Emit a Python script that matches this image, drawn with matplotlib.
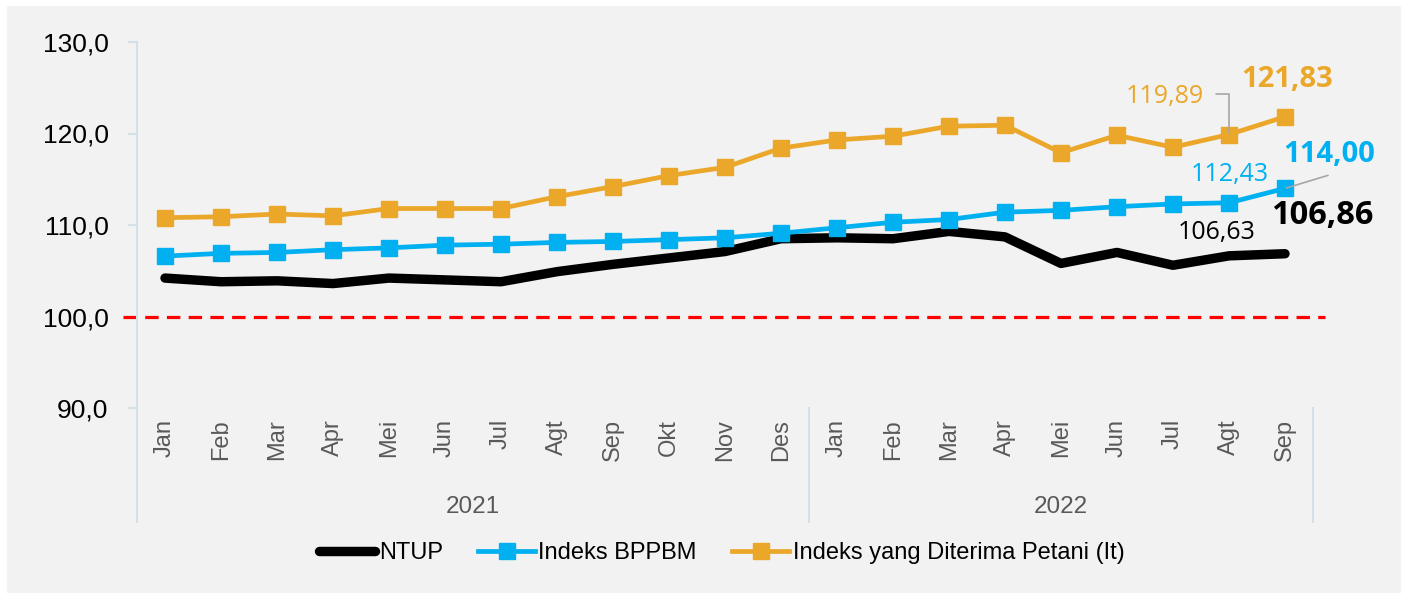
import matplotlib
matplotlib.use('Agg')
import matplotlib.pyplot as plt
from matplotlib.patches import Rectangle
from matplotlib.lines import Line2D
import matplotlib.transforms as mtrans

# ---------------- data ----------------
months = ['Jan', 'Feb', 'Mar', 'Apr', 'Mei', 'Jun', 'Jul', 'Agt', 'Sep', 'Okt', 'Nov', 'Des',
          'Jan', 'Feb', 'Mar', 'Apr', 'Mei', 'Jun', 'Jul', 'Agt', 'Sep']
years = ['2021', '2022']
year_counts = [12, 9]

ntup = [104.2, 103.8, 103.9, 103.6, 104.2, 104.0, 103.8, 104.9, 105.7, 106.4, 107.1, 108.5,
        108.6, 108.5, 109.3, 108.7, 105.8, 107.0, 105.6, 106.63, 106.86]
bppbm = [106.6, 106.9, 107.0, 107.3, 107.5, 107.8, 107.9, 108.1, 108.2, 108.4, 108.6, 109.1,
         109.7, 110.3, 110.6, 111.4, 111.6, 112.0, 112.3, 112.43, 114.00]
it = [110.8, 110.9, 111.2, 111.0, 111.8, 111.8, 111.8, 113.1, 114.2, 115.4, 116.3, 118.4,
      119.3, 119.7, 120.8, 120.9, 117.9, 119.8, 118.5, 119.89, 121.83]

yticks = [90, 100, 110, 120, 130]
ref_level = 100
series_names = ['NTUP', 'Indeks BPPBM', 'Indeks yang Diterima Petani (It)']

# ---------------- style ----------------
C_NTUP = '#000000'
C_BLUE = '#00B0F0'
C_ORANGE = '#EBA72A'
C_AXIS = '#d5dfe7'
C_GRAY = '#595959'
C_LEADER = '#a6a6a6'
AX_FONT = ['Liberation Sans', 'DejaVu Sans']
LBL_FONT = ['Open Sans', 'Lato', 'DejaVu Sans']

W, H = 1401, 595
fig = plt.figure(figsize=(W / 100, H / 100), dpi=100)
fig.patch.set_facecolor('white')
fig.patches.append(Rectangle((7 / W, 2 / H), 1 - 7 / W, 1 - 8 / H, transform=fig.transFigure,
                             facecolor='#f2f2f2', edgecolor='none', zorder=-10))

ax = fig.add_axes([137 / W, 1 - 408 / H, 1176 / W, 366 / H])
ax.set_facecolor('none')
x = list(range(len(months)))

ax.set_xlim(-0.5, len(months) - 0.5)
ax.set_ylim(yticks[0], yticks[-1])

# reference line
ax.axhline(ref_level, xmin=-0.012, xmax=1.010, color='#ff0000', lw=2.3,
           ls=(0, (4.2, 2.6)), clip_on=False, zorder=2)

# series
ax.plot(x, ntup, color=C_NTUP, lw=6.8, solid_capstyle='round', solid_joinstyle='round', zorder=3)
ax.plot(x, bppbm, color=C_BLUE, lw=3.4, marker='s', markersize=11.5, zorder=4)
ax.plot(x, it, color=C_ORANGE, lw=3.4, marker='s', markersize=11.5, zorder=4)

# axes styling
for s in ['top', 'right', 'bottom']:
    ax.spines[s].set_visible(False)
ax.spines['left'].set_color(C_AXIS)
ax.spines['left'].set_linewidth(1.5)
ax.set_yticks(yticks)
ax.set_yticklabels([f"{v:.1f}".replace('.', ',') for v in yticks], fontfamily=AX_FONT,
                   fontsize=19, color='#000000')
ax.tick_params(axis='y', length=6.5, width=1.5, color=C_AXIS, pad=14)
ax.set_xticks(x)
ax.set_xticklabels(months, rotation=90, fontfamily=AX_FONT, fontsize=17, color=C_GRAY)
ax.tick_params(axis='x', length=0, pad=8)

# category group separators and year labels
bt = mtrans.blended_transform_factory(ax.transData, ax.transAxes)
sep_bottom = -114 / 366
pos = -0.5
bounds = [pos]
for c in year_counts:
    pos += c
    bounds.append(pos)
for b in bounds:
    ax.add_line(Line2D([b, b], [sep_bottom, 0], transform=bt, color=C_AXIS, lw=1.5, clip_on=False))
for i, yr in enumerate(years):
    mid = (bounds[i] + bounds[i + 1]) / 2
    ax.text(mid, -99 / 366, yr, transform=bt, ha='center', va='center',
            fontfamily=AX_FONT, fontsize=17.5, color=C_GRAY)

# data labels
def fmt(v):
    return f"{v:.2f}".replace('.', ',')

def label(i, vals, color, size, weight, dx, dy):
    ax.annotate(fmt(vals[i]), xy=(x[i], vals[i]), xytext=(dx, dy), textcoords='offset points',
                ha='center', va='center', fontsize=size, fontweight=weight, color=color,
                fontfamily=LBL_FONT, zorder=6)

n = len(months) - 1
label(n, it, C_ORANGE, 21, 'bold', 1.4, 27)
label(n - 1, it, C_ORANGE, 18, 'normal', -46, 27.5)
label(n, bppbm, C_BLUE, 21, 'bold', 31.5, 24.5)
label(n - 1, bppbm, C_BLUE, 18, 'normal', 0.7, 20)
label(n, ntup, C_NTUP, 23.5, 'bold', 26.6, 27.5)
label(n - 1, ntup, C_NTUP, 18, 'normal', -8.6, 16.6)

# leader lines
ax.annotate('', xy=(x[n - 1], it[n - 1]), xytext=(-9.5, 29), textcoords='offset points',
            arrowprops=dict(arrowstyle='-', color=C_LEADER, lw=1.2, shrinkA=0, shrinkB=1,
                            connectionstyle='angle,angleA=0,angleB=90,rad=0'), zorder=5)
ax.annotate('', xy=(x[n], bppbm[n]), xytext=(31, 9.4), textcoords='offset points',
            arrowprops=dict(arrowstyle='-', color=C_LEADER, lw=1.2, shrinkA=0, shrinkB=1), zorder=5)

# legend
handles = [
    Line2D([], [], color=C_NTUP, lw=6.8, solid_capstyle='round'),
    Line2D([], [], color=C_BLUE, lw=3.4, marker='s', markersize=11.5),
    Line2D([], [], color=C_ORANGE, lw=3.4, marker='s', markersize=11.5),
]
fig.legend(handles, series_names, loc='center', bbox_to_anchor=(0.515, 1 - 553 / H), ncol=3,
           frameon=False, prop={'family': AX_FONT, 'size': 17}, handlelength=2.4,
           handletextpad=0.15, columnspacing=1.5)

fig.savefig('out.png', dpi=100, facecolor=fig.get_facecolor())
